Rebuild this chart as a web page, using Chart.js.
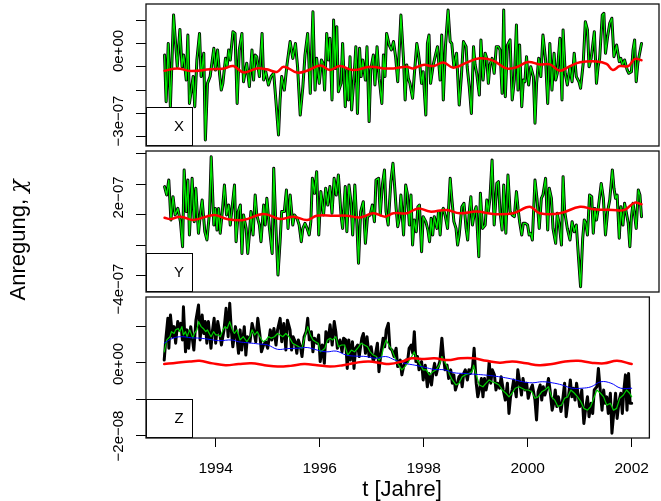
<!DOCTYPE html>
<html>
<head>
<meta charset="utf-8">
<script src="https://cdn.jsdelivr.net/npm/chart.js@4.4.1/dist/chart.umd.min.js"></script>
<style>
  html, body { margin: 0; padding: 0; background: #fff; }
  #wrap { position: relative; width: 661px; height: 501px; }
  #wrap canvas { position: absolute; left: 0; top: 0; }
</style>
</head>
<body>
<div id="wrap">
  <canvas id="cX" width="661" height="501"></canvas>
  <canvas id="cY" width="661" height="501"></canvas>
  <canvas id="cZ" width="661" height="501"></canvas>
</div>
<script>
// ---------- data (values in units of 1e-7 for X, Y and 1e-8 for Z) ----------
const yearTicks = [1994, 1996, 1998, 2000, 2002];

const xTime = [1993.01,1993.04,1993.08,1993.12,1993.18,1993.25,1993.30,1993.34,1993.37,1993.42,1993.45,1993.48,1993.55,1993.58,1993.62,1993.67,1993.70,1993.75,1993.78,1993.82,1993.87,1993.94,1993.97,1994.01,1994.05,1994.08,1994.11,1994.16,1994.19,1994.22,1994.25,1994.30,1994.34,1994.38,1994.42,1994.47,1994.50,1994.56,1994.61,1994.66,1994.69,1994.72,1994.75,1994.80,1994.85,1994.88,1994.92,1994.97,1995.02,1995.07,1995.11,1995.16,1995.19,1995.22,1995.27,1995.32,1995.38,1995.43,1995.48,1995.52,1995.57,1995.62,1995.66,1995.71,1995.76,1995.81,1995.85,1995.88,1995.93,1995.97,1996.00,1996.03,1996.07,1996.10,1996.13,1996.17,1996.20,1996.23,1996.26,1996.29,1996.34,1996.37,1996.42,1996.45,1996.48,1996.51,1996.54,1996.59,1996.62,1996.65,1996.69,1996.72,1996.75,1996.80,1996.83,1996.87,1996.90,1996.95,1996.98,1997.02,1997.06,1997.11,1997.14,1997.17,1997.20,1997.25,1997.29,1997.33,1997.37,1997.41,
  1997.47,1997.52,1997.55,1997.58,1997.61,1997.64,1997.69,1997.72,1997.77,1997.80,1997.83,1997.86,1997.89,1997.94,1997.97,1998.00,1998.03,1998.08,1998.13,1998.16,1998.21,1998.24,1998.27,1998.31,1998.36,1998.40,1998.43,1998.47,1998.52,1998.57,1998.61,1998.65,1998.70,1998.72,1998.76,1998.80,1998.84,1998.87,1998.90,1998.95,1998.98,1999.02,1999.06,1999.09,1999.12,1999.15,1999.19,1999.23,1999.27,1999.31,1999.34,1999.38,1999.41,1999.44,1999.48,1999.53,1999.57,1999.61,1999.65,1999.68,1999.71,1999.75,1999.78,1999.81,1999.84,1999.88,1999.92,1999.97,2000.00,2000.03,2000.07,2000.11,2000.15,2000.20,2000.24,2000.28,2000.32,2000.36,2000.39,2000.42,2000.47,2000.51,2000.53,2000.57,2000.61,2000.66,2000.70,2000.74,2000.78,2000.83,2000.86,2000.91,2000.95,2000.99,2001.02,2001.06,2001.12,2001.16,2001.19,2001.22,2001.27,2001.30,2001.33,2001.37,2001.41,2001.45,2001.49,2001.54,2001.59,2001.62,2001.65,2001.69,2001.74,2001.77,2001.82,2001.85,2001.88,2001.91,2001.94,2002.01];
const xObs = [0.51,-1.49,1.01,-1.70,2.23,0.01,1.61,0.01,0.51,-0.56,1.37,-1.56,-0.41,-1.70,0.30,1.44,-0.41,0.59,-3.13,-0.70,-0.41,0.80,-0.13,0.73,-0.34,-0.99,-0.70,0.37,0.01,0.73,0.30,1.51,1.44,-1.56,0.73,1.44,-0.63,0.16,-0.84,0.73,-0.56,0.51,0.44,-0.41,1.44,-0.56,-0.20,-0.77,-0.41,-0.27,-1.41,-2.91,-1.41,-0.41,-0.99,0.09,1.09,0.37,1.01,0.01,-2.06,-0.84,0.51,1.44,-1.13,2.37,-0.99,0.37,-0.70,0.30,0.16,-0.99,1.44,0.30,1.23,-1.41,2.01,-0.06,1.73,-1.06,-0.70,1.01,-1.70,-0.13,-1.41,0.44,-1.84,-0.27,0.87,-1.99,0.80,-0.41,0.30,-0.56,0.87,-2.34,-0.13,0.51,-0.77,0.87,-0.49,-1.56,0.51,-0.41,1.44,0.94,0.73,1.09,0.44,-0.63,
  2.23,0.30,-1.41,0.09,-0.49,-0.70,-1.34,-0.41,1.01,0.59,0.01,-0.70,-0.20,-2.06,1.01,1.37,-0.70,0.09,0.59,0.87,-0.56,1.37,-1.41,0.87,2.44,1.09,1.01,0.01,0.59,-1.63,-0.41,1.09,0.87,0.01,-0.84,-1.99,0.87,0.09,-0.27,-1.20,1.16,-0.56,0.59,0.37,-0.70,0.09,0.37,-0.27,0.87,0.87,0.73,-1.13,2.44,-1.27,0.94,1.16,-1.41,-0.56,1.80,-0.99,0.94,-1.70,-0.56,-0.63,0.44,-0.77,0.01,-0.41,-2.41,-0.70,0.37,-0.41,1.37,0.30,-1.56,1.01,-0.99,0.59,-0.56,-0.27,1.23,-1.41,1.59,-0.27,-0.77,0.01,-0.63,0.59,-0.41,-0.63,-0.91,0.16,1.94,1.59,0.01,0.37,1.51,-0.70,0.01,0.37,2.23,2.30,0.59,1.30,1.87,2.09,0.44,0.94,0.23,0.37,0.09,0.30,-0.13,-0.27,-0.20,0.73,1.16,-0.63,0.16,1.01];
const xSmoothTime = [1993.01,1993.25,1993.50,1993.87,1994.13,1994.31,1994.50,1994.75,1994.94,1995.13,1995.26,1995.51,1995.70,1995.95,1996.13,1996.32,1996.57,1996.89,1997.14,1997.33,1997.58,1997.70,1997.89,1998.08,1998.27,1998.46,1998.71,1998.96,1999.21,1999.46,1999.65,1999.87,2000.09,2000.28,2000.47,2000.66,2000.85,2001.16,2001.35,2001.47,2001.60,2001.76,2001.88,2002.01];
const xSmooth = [-0.16,-0.06,-0.17,-0.10,-0.06,0.04,-0.23,-0.06,-0.10,-0.21,0.01,-0.24,-0.16,0.06,-0.13,0.04,-0.13,0.01,-0.06,-0.06,0.01,-0.06,0.09,0.04,0.19,-0.03,0.19,0.37,0.27,-0.06,-0.01,0.21,0.11,0.11,-0.16,0.04,0.20,0.24,0.13,-0.13,0.04,0.04,0.34,0.29];

const yTime = [1993.01,1993.05,1993.09,1993.13,1993.17,1993.21,1993.26,1993.31,1993.35,1993.38,1993.42,1993.45,1993.48,1993.53,1993.57,1993.60,1993.65,1993.69,1993.72,1993.77,1993.81,1993.86,1993.89,1993.94,1993.97,1994.00,1994.03,1994.06,1994.10,1994.14,1994.18,1994.22,1994.25,1994.29,1994.33,1994.36,1994.40,1994.44,1994.47,1994.50,1994.55,1994.58,1994.61,1994.64,1994.68,1994.72,1994.75,1994.80,1994.83,1994.88,1994.91,1994.94,1994.99,1995.04,1995.07,1995.11,1995.15,1995.19,1995.22,1995.27,1995.31,1995.34,1995.38,1995.43,1995.46,1995.51,1995.55,1995.59,1995.62,1995.66,1995.70,1995.74,1995.77,1995.80,1995.84,1995.88,1995.92,1995.96,1996.01,1996.05,1996.09,1996.13,1996.17,1996.21,1996.25,1996.29,1996.34,1996.37,1996.42,1996.45,1996.49,1996.53,1996.56,1996.60,1996.64,1996.67,1996.71,1996.76,1996.80,1996.84,1996.89,1996.93,1996.97,1997.00,1997.05,1997.08,1997.12,1997.16,1997.19,1997.23,1997.28,1997.32,1997.35,1997.38,1997.41,
  1997.44,1997.47,1997.52,1997.56,1997.59,1997.63,1997.66,1997.69,1997.72,1997.76,1997.79,1997.82,1997.86,1997.89,1997.94,1997.98,1998.01,1998.04,1998.07,1998.10,1998.15,1998.18,1998.21,1998.24,1998.27,1998.31,1998.35,1998.40,1998.43,1998.47,1998.51,1998.54,1998.57,1998.62,1998.66,1998.70,1998.73,1998.76,1998.79,1998.82,1998.86,1998.89,1998.94,1998.97,1999.01,1999.06,1999.09,1999.12,1999.15,1999.19,1999.23,1999.28,1999.31,1999.34,1999.38,1999.41,1999.45,1999.49,1999.53,1999.57,1999.61,1999.65,1999.68,1999.71,1999.75,1999.78,1999.82,1999.86,1999.89,1999.92,1999.95,2000.00,2000.04,2000.08,2000.12,2000.15,2000.20,2000.24,2000.27,2000.31,2000.34,2000.39,2000.42,2000.46,2000.50,2000.53,2000.56,2000.61,2000.66,2000.70,2000.74,2000.78,2000.82,2000.86,2000.90,2000.93,2000.96,2000.99,2001.03,2001.07,2001.10,2001.13,2001.16,2001.19,2001.22,2001.25,2001.29,2001.33,2001.37,2001.41,2001.46,2001.49,2001.52,2001.55,2001.59,2001.62,2001.66,2001.69,2001.72,2001.76,2001.79,2001.82,2001.85,2001.88,2001.91,2001.95,2001.98,2002.01];
const yObs = [3.83,3.28,4.26,1.64,3.17,1.97,2.40,1.53,-0.11,4.92,2.19,4.26,0.66,4.37,1.53,3.72,0.77,2.19,2.95,0.87,0.33,2.19,5.79,1.31,2.40,0.98,2.40,0.77,2.19,3.93,1.97,2.62,1.31,2.62,3.93,0.22,2.19,2.62,-0.55,1.97,1.09,-0.55,0.66,2.19,0.66,3.28,1.97,1.31,0.22,2.62,1.31,3.06,1.09,-0.55,5.03,1.31,-1.97,0.22,2.19,2.19,3.61,1.09,3.28,1.31,1.97,1.75,1.31,0.22,1.09,1.42,1.09,0.66,1.53,4.37,3.39,4.81,0.66,3.50,1.97,3.72,2.62,3.83,2.08,4.37,3.28,4.59,1.97,1.09,3.83,0.87,3.93,2.73,0.66,3.93,1.31,-1.20,2.19,2.84,0.11,1.86,1.97,2.62,1.53,4.26,4.37,1.97,3.93,4.92,2.19,1.31,4.15,5.36,3.93,2.40,1.20,
  1.75,3.28,0.66,3.93,3.39,1.31,3.28,0.00,1.64,0.87,2.51,2.62,-0.44,1.86,1.53,0.98,0.22,1.75,0.66,1.86,1.09,2.19,0.66,2.19,2.40,1.86,1.09,4.37,3.06,1.53,1.09,0.00,0.66,2.51,2.73,1.09,0.33,2.19,3.17,1.31,2.19,2.51,-0.77,3.39,1.09,1.31,2.95,2.19,3.06,5.57,1.31,4.04,4.15,2.19,0.98,3.93,0.77,4.59,2.19,1.97,1.86,3.50,2.40,1.53,0.66,1.42,1.42,1.31,0.66,0.77,0.33,4.26,2.95,1.09,3.06,3.28,4.37,0.98,3.72,3.06,1.09,0.11,2.08,1.31,0.00,4.48,2.19,1.09,0.33,1.53,0.87,1.31,-0.77,-2.73,0.44,1.64,1.42,0.66,3.28,3.17,0.77,2.40,1.64,2.30,3.17,4.04,3.06,0.66,2.19,2.95,4.92,3.72,3.06,3.28,0.44,2.51,1.31,2.73,2.19,1.42,-0.11,1.86,2.73,1.97,1.09,3.61,3.28,1.86];
const ySmoothTime = [1993.01,1993.12,1993.31,1993.56,1993.94,1994.19,1994.50,1994.88,1995.19,1995.44,1995.70,1995.88,1996.20,1996.45,1996.70,1996.95,1997.17,1997.33,1997.58,1997.80,1998.02,1998.33,1998.58,1998.90,1999.21,1999.59,1999.90,2000.09,2000.47,2000.85,2001.10,2001.47,2001.69,2001.88,2002.01];
const ySmooth = [1.79,1.70,1.86,1.64,1.97,1.70,1.64,2.03,1.70,1.86,1.64,1.92,1.92,1.92,1.81,2.08,1.86,2.08,2.08,2.40,2.19,2.30,2.08,2.19,2.03,2.08,2.51,2.08,2.08,2.51,2.34,2.30,2.30,2.78,2.67];

const zTime = [1993.01,1993.04,1993.08,1993.10,1993.13,1993.17,1993.20,1993.23,1993.27,1993.30,1993.33,1993.36,1993.38,1993.42,1993.45,1993.48,1993.52,1993.55,1993.58,1993.62,1993.67,1993.70,1993.74,1993.77,1993.80,1993.83,1993.86,1993.91,1993.94,1993.97,1994.00,1994.04,1994.08,1994.11,1994.16,1994.20,1994.24,1994.27,1994.30,1994.33,1994.38,1994.41,1994.44,1994.47,1994.50,1994.55,1994.58,1994.61,1994.66,1994.70,1994.73,1994.77,1994.81,1994.85,1994.88,1994.92,1994.96,1995.00,1995.05,1995.08,1995.12,1995.16,1995.19,1995.24,1995.27,1995.31,1995.35,1995.38,1995.43,1995.46,1995.49,1995.53,1995.56,1995.59,1995.63,1995.66,1995.70,1995.74,1995.77,1995.80,1995.84,1995.87,1995.90,1995.95,1995.98,1996.01,1996.05,1996.09,1996.12,1996.16,1996.20,1996.24,1996.28,1996.31,1996.34,1996.39,1996.43,1996.46,1996.50,1996.53,1996.56,1996.59,1996.63,1996.66,1996.69,1996.73,1996.76,1996.81,1996.84,1996.88,1996.91,1996.95,1996.99,1997.03,1997.07,1997.11,1997.14,1997.17,1997.22,1997.25,1997.28,1997.32,1997.35,1997.39,
  1997.43,1997.47,1997.50,1997.55,1997.58,1997.62,1997.66,1997.69,1997.72,1997.76,1997.79,1997.82,1997.85,1997.88,1997.91,1997.96,1997.99,1998.03,1998.07,1998.10,1998.15,1998.18,1998.21,1998.24,1998.27,1998.31,1998.35,1998.38,1998.41,1998.45,1998.48,1998.52,1998.55,1998.58,1998.61,1998.65,1998.68,1998.71,1998.74,1998.77,1998.80,1998.84,1998.87,1998.90,1998.94,1998.97,1999.01,1999.04,1999.07,1999.11,1999.14,1999.17,1999.20,1999.23,1999.26,1999.29,1999.32,1999.36,1999.39,1999.42,1999.46,1999.49,1999.53,1999.57,1999.61,1999.64,1999.67,1999.70,1999.73,1999.78,1999.81,1999.84,1999.88,1999.91,1999.95,1999.98,2000.01,2000.05,2000.09,2000.14,2000.17,2000.20,2000.24,2000.27,2000.30,2000.33,2000.36,2000.40,2000.43,2000.47,2000.50,2000.53,2000.56,2000.59,2000.64,2000.68,2000.71,2000.74,2000.77,2000.82,2000.85,2000.88,2000.91,2000.94,2000.97,2001.00,2001.04,2001.08,2001.12,2001.15,2001.18,2001.22,2001.25,2001.28,2001.33,2001.36,2001.40,2001.43,2001.46,2001.49,2001.52,2001.55,2001.59,2001.62,2001.66,2001.69,2001.72,2001.76,2001.79,2001.82,2001.85,2001.88,2001.91,2001.94,2001.97,2002.00];
const zObs = [0.08,0.64,1.24,0.41,1.33,0.73,1.01,0.55,1.15,0.92,1.10,0.64,1.56,0.31,0.92,0.41,1.01,0.69,0.36,1.19,1.61,0.64,1.33,0.82,1.15,0.55,1.15,0.41,0.92,1.24,0.55,1.15,0.82,0.50,0.92,1.52,0.73,1.66,0.92,0.45,1.01,0.69,0.27,0.92,0.36,1.01,0.22,0.73,0.59,1.10,0.92,0.59,1.24,0.78,0.31,0.50,0.59,0.41,0.92,0.64,0.96,0.50,0.92,1.24,0.59,1.10,0.36,1.19,0.92,0.36,0.73,0.59,0.27,0.64,0.45,0.18,0.73,0.87,1.24,0.64,0.87,0.31,0.69,0.55,0.78,0.04,0.50,-0.01,0.87,0.59,1.06,0.50,1.15,0.87,0.41,0.64,0.31,0.69,0.64,-0.15,0.64,0.08,0.59,-0.15,0.41,0.50,0.18,0.69,0.82,0.27,0.73,0.18,0.45,0.04,0.22,0.55,-0.24,0.18,0.69,0.45,0.92,1.10,0.41,0.36,
  0.18,0.41,-0.10,0.08,-0.33,-0.06,0.08,0.04,0.41,0.50,0.27,0.87,0.04,0.18,-0.19,0.04,-0.47,-0.06,-0.66,-0.29,-0.61,-0.24,-0.01,-0.33,-0.15,0.04,0.69,0.18,-0.19,-0.06,-0.43,-0.19,-0.56,-0.33,-0.75,-0.56,-0.38,-0.33,-0.66,-0.29,-0.19,-0.47,-0.19,-0.29,-0.10,0.41,-0.56,-0.94,-0.75,-0.43,-0.94,-0.43,-0.75,-0.52,0.04,-0.56,-0.19,-0.33,-0.75,-0.56,-0.70,-0.38,-0.75,-1.03,-0.56,-1.40,-0.94,-0.75,-0.47,-0.94,-0.19,-0.47,-0.89,-0.43,-0.75,-0.56,-0.98,-0.75,-0.61,-1.03,-1.58,-0.80,-0.61,-1.03,-0.66,-0.89,-0.75,-0.43,-0.75,-1.31,-1.12,-0.75,-1.21,-0.94,-1.35,-0.94,-0.56,-1.49,-1.12,-0.47,-0.94,-0.70,-1.03,-0.56,-0.89,-1.21,-0.75,-1.68,-1.21,-0.94,-1.49,-1.12,-1.40,-0.75,-0.66,-0.15,-0.84,-1.31,-0.75,-1.12,-0.94,-1.40,-0.84,-1.95,-1.31,-0.84,-1.54,-1.03,-0.84,-1.40,-0.75,-0.33,-1.31,-0.29,-1.12,-1.12];
const zFitTime = [1993.01,1993.06,1993.12,1993.15,1993.20,1993.23,1993.28,1993.31,1993.35,1993.38,1993.42,1993.45,1993.50,1993.56,1993.59,1993.64,1993.67,1993.72,1993.76,1993.81,1993.84,1993.91,1993.96,1994.00,1994.05,1994.09,1994.14,1994.18,1994.22,1994.27,1994.31,1994.36,1994.41,1994.47,1994.53,1994.60,1994.66,1994.70,1994.75,1994.80,1994.85,1994.91,1994.97,1995.02,1995.07,1995.13,1995.19,1995.24,1995.29,1995.35,1995.41,1995.48,1995.54,1995.60,1995.66,1995.73,1995.77,1995.82,1995.87,1995.92,1995.97,1996.01,1996.06,1996.10,1996.15,1996.20,1996.25,1996.31,1996.36,1996.42,1996.48,1996.54,1996.61,1996.67,1996.73,1996.80,1996.86,1996.92,1996.97,1997.03,1997.09,1997.14,1997.19,1997.23,1997.28,1997.33,1997.39,
  1997.45,1997.52,1997.58,1997.64,1997.71,1997.77,1997.82,1997.86,1997.92,1997.99,1998.05,1998.11,1998.18,1998.24,1998.30,1998.35,1998.40,1998.45,1998.49,1998.55,1998.62,1998.68,1998.74,1998.80,1998.87,1998.93,1998.96,1999.01,1999.07,1999.14,1999.20,1999.26,1999.32,1999.39,1999.45,1999.51,1999.58,1999.64,1999.70,1999.76,1999.83,1999.89,1999.95,2000.01,2000.08,2000.14,2000.20,2000.27,2000.33,2000.40,2000.46,2000.52,2000.58,2000.65,2000.71,2000.77,2000.83,2000.90,2000.96,2001.02,2001.08,2001.15,2001.21,2001.27,2001.33,2001.40,2001.46,2001.52,2001.59,2001.65,2001.71,2001.77,2001.84,2001.90,2001.96,2002.00];
const zFit = [0.31,0.64,0.73,0.87,0.82,0.92,0.96,0.87,1.01,0.78,0.87,0.73,0.92,0.69,0.82,0.92,1.15,1.01,0.96,0.87,0.92,0.73,0.87,0.78,0.78,0.73,0.92,1.01,0.96,1.15,0.96,0.82,0.92,0.64,0.73,0.59,0.73,0.92,0.78,0.87,0.73,0.59,0.64,0.73,0.69,0.73,0.82,0.78,0.73,0.82,0.73,0.55,0.50,0.45,0.41,0.82,1.01,0.78,0.64,0.59,0.55,0.31,0.36,0.41,0.64,0.69,0.64,0.73,0.45,0.50,0.50,0.22,0.36,0.31,0.41,0.55,0.50,0.45,0.31,0.22,0.18,0.08,0.18,0.45,0.64,0.50,0.36,
  0.13,-0.06,-0.19,-0.10,0.04,0.18,0.31,0.13,-0.01,-0.19,-0.19,-0.33,-0.24,-0.19,-0.06,0.18,0.04,-0.10,-0.29,-0.47,-0.61,-0.56,-0.38,-0.33,-0.29,-0.24,-0.06,-0.33,-0.61,-0.66,-0.56,-0.47,-0.52,-0.56,-0.61,-0.75,-0.84,-0.94,-0.84,-0.70,-0.66,-0.70,-0.75,-0.75,-0.80,-0.98,-0.94,-0.80,-0.75,-0.66,-0.94,-1.03,-1.21,-1.17,-0.98,-0.94,-0.75,-0.84,-0.94,-1.07,-1.26,-1.31,-1.21,-0.98,-0.75,-0.84,-0.94,-1.17,-1.12,-1.31,-1.26,-0.98,-0.89,-0.75,-0.84,-0.94];
const zTrendTime = [1993.01,1993.18,1993.34,1993.53,1993.69,1993.87,1994.06,1994.31,1994.44,1994.63,1994.82,1995.00,1995.19,1995.38,1995.57,1995.76,1995.95,1996.13,1996.32,1996.51,1996.70,1996.89,1997.08,1997.27,1997.45,1997.64,1997.83,1998.02,1998.21,1998.40,1998.58,1998.77,1998.96,1999.15,1999.34,1999.53,1999.71,1999.90,2000.09,2000.28,2000.47,2000.66,2000.85,2001.04,2001.22,2001.41,2001.60,2001.79,2002.00];
const zTrend = [0.55,0.69,0.73,0.70,0.69,0.66,0.62,0.64,0.59,0.56,0.53,0.50,0.38,0.40,0.41,0.43,0.36,0.31,0.33,0.22,0.19,0.18,0.13,0.18,0.08,-0.01,-0.06,-0.12,-0.18,-0.19,-0.27,-0.29,-0.31,-0.33,-0.36,-0.40,-0.45,-0.52,-0.55,-0.52,-0.55,-0.61,-0.70,-0.70,-0.66,-0.52,-0.56,-0.70,-0.70];
const zSmoothTime = [1993.01,1993.25,1993.50,1993.69,1993.94,1994.19,1994.44,1994.69,1994.94,1995.19,1995.44,1995.70,1995.95,1996.20,1996.45,1996.70,1996.95,1997.20,1997.33,1997.58,1997.77,1997.96,1998.21,1998.46,1998.71,1998.96,1999.21,1999.46,1999.71,1999.97,2000.22,2000.47,2000.72,2000.97,2001.22,2001.47,2001.72,2002.00];
const zSmooth = [-0.03,0.01,0.04,0.06,-0.01,-0.06,-0.03,-0.01,-0.06,-0.10,-0.08,-0.03,-0.06,-0.10,-0.06,0.01,0.04,-0.01,-0.03,0.04,0.13,0.11,0.13,0.08,0.13,0.13,0.06,0.01,0.04,-0.01,-0.06,-0.03,0.04,0.06,0.01,-0.01,0.06,-0.03];

// ---------- helpers ----------
const FONT = '"Liberation Sans", Arial, Helvetica, sans-serif';
const pts = (t, v) => t.map((x, i) => ({ x: x, y: v[i] }));

function line(data, color, width, order, smooth) {
  return {
    data: data, borderColor: color, borderWidth: width, order: order,
    pointRadius: 0, fill: false, tension: smooth ? 0.4 : 0,
    borderJoinStyle: 'round', borderCapStyle: 'round'
  };
}

// frame, rotated y labels, small name box
const panelDecor = {
  id: 'panelDecor',
  afterDraw(chart, args, o) {
    const ctx = chart.ctx, a = chart.chartArea, ys = chart.scales.y;
    ctx.save();
    // name box at lower left
    ctx.fillStyle = '#fff';
    ctx.fillRect(a.left, a.bottom - 39, 46, 39);
    ctx.strokeStyle = '#000';
    ctx.lineWidth = 1;
    ctx.strokeRect(a.left + 0.5, a.bottom - 38.5, 46, 38);
    ctx.fillStyle = '#000';
    ctx.font = '15px ' + FONT;
    ctx.textAlign = 'center';
    ctx.textBaseline = 'middle';
    ctx.fillText(o.name, a.left + 33, a.bottom - 19);
    // frame
    ctx.lineWidth = 1.3;
    ctx.strokeStyle = '#111';
    ctx.strokeRect(a.left, a.top, a.right - a.left, a.bottom - a.top);
    // y tick labels, written upwards
    ctx.textBaseline = 'alphabetic';
    o.labels.forEach(l => {
      ctx.save();
      ctx.translate(123, ys.getPixelForValue(l.v) + o.shift);
      ctx.rotate(-Math.PI / 2);
      ctx.fillText(l.text, 0, 0);
      ctx.restore();
    });
    if (o.titles) {
      ctx.font = '22px ' + FONT;
      ctx.fillText('t [Jahre]', 402, 496);
      // y title: text then the Greek chi in an italic serif face
      ctx.save();
      ctx.translate(25, 240);
      ctx.rotate(-Math.PI / 2);
      const main = 'Anregung, ';
      const wMain = ctx.measureText(main).width;
      ctx.font = 'italic 22px "DejaVu Serif", serif';
      const wChi = ctx.measureText('\u03c7').width;
      const x0 = -(wMain + wChi) / 2;
      ctx.textAlign = 'left';
      ctx.fillText('\u03c7', x0 + wMain, 0);
      ctx.font = '22px ' + FONT;
      ctx.fillText(main, x0, 0);
      ctx.restore();
    }
    ctx.restore();
  }
};

function makePanel(id, p) {
  new Chart(document.getElementById(id), {
    type: 'line',
    data: { datasets: p.datasets },
    options: {
      responsive: false, animation: false, events: [],
      layout: { padding: { top: p.top, bottom: p.bottom, left: 0, right: 2 } },
      plugins: { legend: { display: false }, tooltip: { enabled: false }, panelDecor: p.decor },
      scales: {
        x: {
          type: 'linear', min: 1992.66, max: 2002.34, display: p.showX,
          afterBuildTicks: s => { s.ticks = yearTicks.map(v => ({ value: v })); },
          afterFit: s => { s.height = p.showX ? 63 : 0; },
          grid: { drawOnChartArea: false, drawTicks: true, tickLength: 9, color: '#000' },
          border: { display: false },
          ticks: { color: '#000', padding: 12, maxRotation: 0, font: { family: FONT, size: 15.5 },
                   callback: v => String(v) }
        },
        y: {
          type: 'linear', min: p.yMin, max: p.yMax,
          afterBuildTicks: s => { s.ticks = p.yTicks.map(v => ({ value: v })); },
          afterFit: s => { s.width = 146; },
          grid: { drawOnChartArea: false, drawTicks: true, tickLength: 10, color: '#000' },
          border: { display: false },
          ticks: { display: false }
        }
      }
    },
    plugins: [panelDecor]
  });
}

// ---------- panel X ----------
makePanel('cX', {
  top: 4, bottom: 355, showX: false,
  yMin: -3.386, yMax: 2.70, yTicks: [-3, -2, -1, 0, 1, 2],
  decor: { name: 'X', shift: -16, labels: [{ v: 0, text: '0e+00' }, { v: -3, text: '\u22123e\u221207' }] },
  datasets: [
    line(pts(xSmoothTime, xSmooth), '#ff0000', 2.5, 0, true),
    line(pts(xTime, xObs), '#00e600', 1.3, 1, false),
    line(pts(xTime, xObs), '#000000', 3, 2, false)
  ]
});

// ---------- panel Y ----------
makePanel('cY', {
  top: 151, bottom: 209, showX: false,
  yMin: -3.082, yMax: 6.164, yTicks: [-2, 0, 2, 4, 6],
  decor: { name: 'Y', shift: -17, labels: [{ v: 2, text: '2e\u221207' }, { v: -4, text: '\u22124e\u221207' }] },
  datasets: [
    line(pts(ySmoothTime, ySmooth), '#ff0000', 2.5, 0, true),
    line(pts(yTime, yObs), '#00e600', 1.3, 1, false),
    line(pts(yTime, yObs), '#000000', 3, 2, false)
  ]
});

// ---------- panel Z ----------
makePanel('cZ', {
  top: 297, bottom: 0, showX: true,
  yMin: -2.083, yMax: 1.833, yTicks: [-2, -1, 0, 1],
  decor: { name: 'Z', shift: 1, titles: true, labels: [{ v: 0, text: '0e+00' }, { v: -2, text: '\u22122e\u221208' }] },
  datasets: [
    line(pts(zSmoothTime, zSmooth), '#ff0000', 2.5, 0, true),
    line(pts(zTrendTime, zTrend), '#0000ff', 1, 1, true),
    line(pts(zFitTime, zFit), '#00cc00', 1.2, 2, false),
    line(pts(zTime, zObs), '#000000', 3, 3, false)
  ]
});
</script>
</body>
</html>
